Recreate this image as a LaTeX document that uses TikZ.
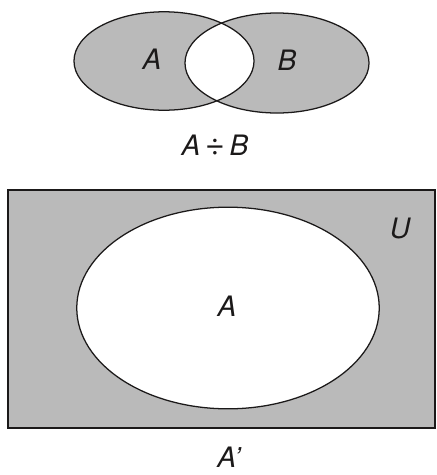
\documentclass[tikz,border=0pt]{standalone}
\usepackage{fontspec}
\setsansfont{TeX Gyre Heros}
\usetikzlibrary{positioning}
\definecolor{ink}{HTML}{1B1919}
\definecolor{sGray}{HTML}{BABABA}
\tikzset{
  lbl/.style={font=\sffamily\itshape\fontsize{20}{24}\selectfont, text=ink, inner sep=0pt},
  rim/.style={draw=ink, line width=0.9pt},
}

\begin{document}
\begin{tikzpicture}[x=0.025cm, y=-0.025cm]
\useasboundingbox (0,0) rectangle (436,475);
% symmetric difference
\fill[sGray] (164,61) ellipse [x radius=2.25cm, y radius=1.23cm];
\fill[sGray] (277,63) ellipse [x radius=2.3cm, y radius=1.25cm];
\begin{scope}
\clip (164,61) ellipse [x radius=2.25cm, y radius=1.23cm];
\fill[white] (277,63) ellipse [x radius=2.3cm, y radius=1.25cm];
\end{scope}
\draw[rim] (164,61) ellipse [x radius=2.25cm, y radius=1.23cm];
\draw[rim] (277,63) ellipse [x radius=2.3cm, y radius=1.25cm];
\node[lbl] (setA) at (152,59) {A};
\node[lbl] (setB) at (287,60) {B};
\node[lbl] (symdiff) at (215,145) {A\,{\upshape\fontsize{24}{24}\selectfont ÷}\,B};
% complement
\fill[sGray] (8,190) rectangle (435,428);
\draw[rim] (8,190) rectangle (435,428);
\filldraw[rim, fill=white] (228,308) ellipse [x radius=3.78cm, y radius=2.52cm];
\node[lbl] (inA) at (227,306) {A};
\node[lbl] (univ) at (400,228) {U};
\node[lbl] (compl) at (229,457) {A'};
\end{tikzpicture}
\end{document}
